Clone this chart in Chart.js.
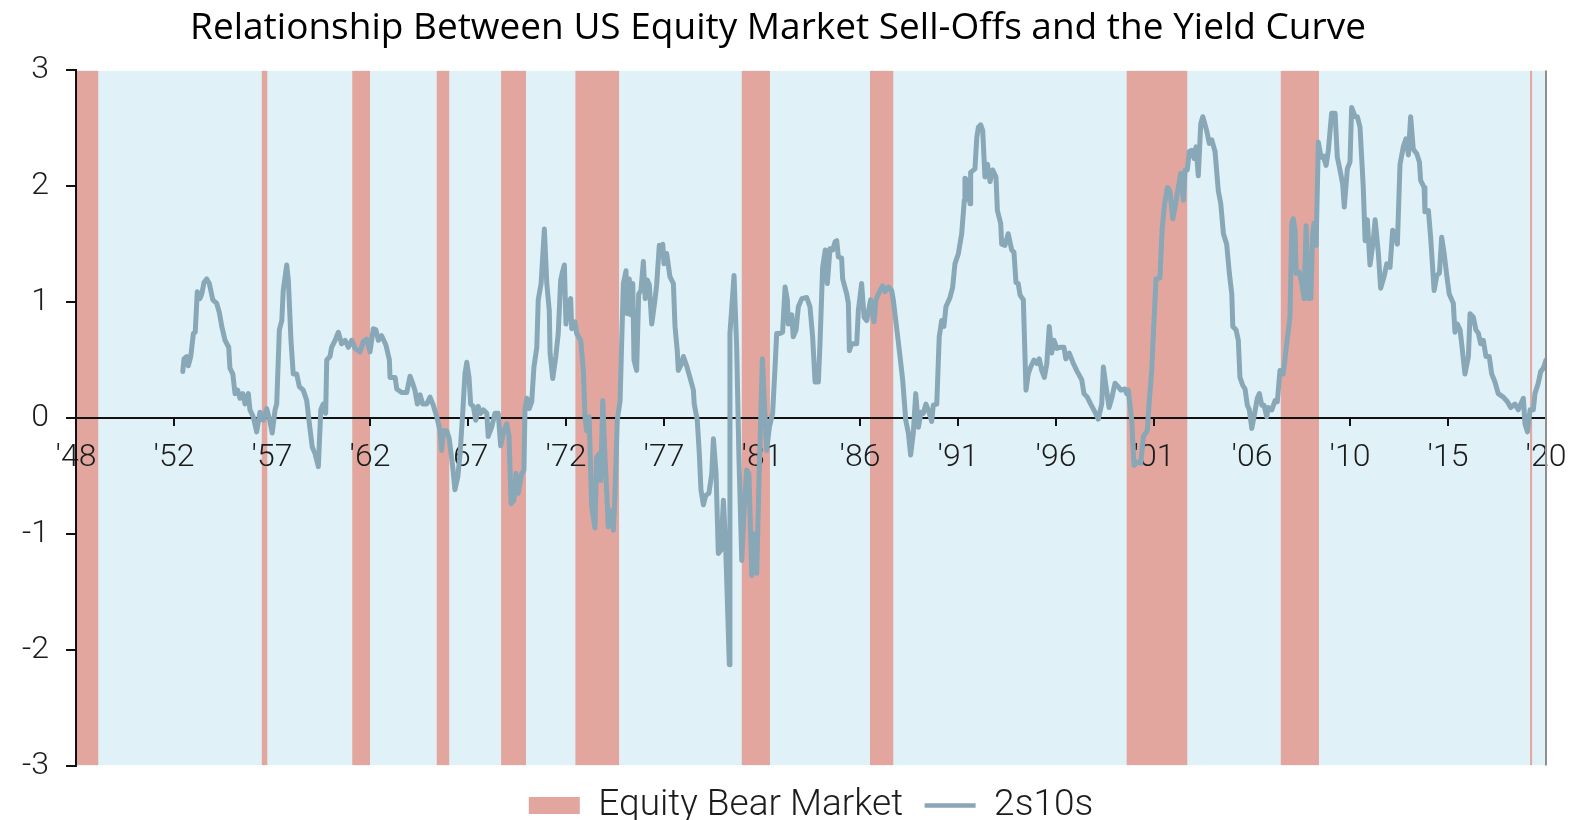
<!DOCTYPE html>
<html>
<head>
<meta charset="utf-8">
<title>Relationship Between US Equity Market Sell-Offs and the Yield Curve</title>
<script src="https://cdn.jsdelivr.net/npm/chart.js@4.4.1/dist/chart.umd.min.js"></script>
<style>
  html, body { margin: 0; padding: 0; background: #fff; }
  #wrap { width: 1573px; height: 820px; }
</style>
</head>
<body>
<div id="wrap"><canvas id="chart" width="1573" height="820"></canvas></div>
<script>
/* =============================================
   2s10s CURVE vs EQUITY BEAR MARKETS
   ============================================= */

const TITLE = 'Relationship Between US Equity Market Sell-Offs and the Yield Curve';

const xMin = 1948, xMax = 2020;
const yMin = -3, yMax = 3;

const xTickLabels = ["'48", "'52", "'57", "'62", "'67", "'72", "'77", "'81",
                     "'86", "'91", "'96", "'01", "'06", "'10", "'15", "'20"];

// bear market periods (decimal years)
const bearStart = [1948.00, 1957.10, 1961.53, 1965.67, 1968.82, 1972.46, 1980.61, 1986.89, 1999.46, 2007.01, 2019.22];
const bearEnd   = [1949.09, 1957.37, 1962.40, 1966.28, 1970.04, 1974.60, 1981.99, 1988.03, 2002.43, 2008.88, 2019.33];

// 2s10s spread (pct points)
const dates = [
  1953.23,1953.29,1953.42,1953.50,1953.62,1953.75,1953.84,1953.94,1954.07,1954.16,
  1954.27,1954.40,1954.53,1954.70,1954.89,1955.02,1955.14,1955.30,1955.48,1955.54,
  1955.68,1955.79,1955.92,1956.03,1956.17,1956.28,1956.44,1956.52,1956.68,1956.85,
  1957.01,1957.17,1957.34,1957.50,1957.61,1957.75,1957.83,1957.96,1958.08,1958.15,
  1958.32,1958.40,1958.53,1958.64,1958.81,1958.94,1959.13,1959.30,1959.43,1959.57,
  1959.71,1959.87,1959.99,1960.11,1960.23,1960.28,1960.44,1960.52,1960.69,1960.85,
  1961.01,1961.18,1961.34,1961.50,1961.67,1961.91,1962.07,1962.24,1962.40,1962.56,
  1962.69,1962.81,1962.97,1963.18,1963.35,1963.38,1963.63,1963.71,1963.95,1964.20,
  1964.36,1964.49,1964.60,1964.72,1964.85,1964.98,1965.18,1965.34,1965.50,1965.67,
  1965.83,1965.91,1965.99,1966.16,1966.28,1966.45,1966.56,1966.70,1966.81,1966.94,
  1967.05,1967.14,1967.25,1967.33,1967.46,1967.58,1967.70,1967.82,1967.95,1968.12,
  1968.19,1968.36,1968.52,1968.68,1968.80,1968.93,1969.10,1969.21,1969.31,1969.45,
  1969.55,1969.66,1969.83,1969.94,1969.99,1970.08,1970.20,1970.32,1970.43,1970.57,
  1970.64,1970.78,1970.94,1971.06,1971.18,1971.22,1971.35,1971.50,1971.62,1971.74,
  1971.84,1971.92,1972.00,1972.11,1972.23,1972.28,1972.44,1972.52,1972.72,1972.85,
  1972.93,1973.01,1973.13,1973.26,1973.42,1973.50,1973.63,1973.70,1973.80,1973.91,
  1973.99,1974.07,1974.16,1974.32,1974.40,1974.51,1974.65,1974.73,1974.81,1974.94,
  1975.00,1975.10,1975.17,1975.27,1975.33,1975.46,1975.56,1975.67,1975.79,1975.88,
  1975.98,1976.08,1976.20,1976.36,1976.44,1976.57,1976.69,1976.74,1976.80,1976.93,
  1977.09,1977.26,1977.34,1977.45,1977.50,1977.67,1977.75,1977.91,1978.07,1978.24,
  1978.28,1978.43,1978.53,1978.61,1978.73,1978.84,1979.00,1979.14,1979.22,1979.35,
  1979.46,1979.59,1979.71,1979.82,1980.00,1980.03,1980.23,1980.36,1980.47,1980.61,
  1980.72,1980.85,1980.96,1981.10,1981.17,1981.34,1981.47,1981.62,1981.71,1981.83,
  1981.96,1982.12,1982.24,1982.32,1982.48,1982.61,1982.73,1982.84,1982.89,1983.06,
  1983.13,1983.27,1983.38,1983.55,1983.79,1983.95,1984.08,1984.20,1984.36,1984.44,
  1984.57,1984.70,1984.80,1984.93,1985.06,1985.18,1985.26,1985.34,1985.50,1985.55,
  1985.75,1985.83,1985.88,1985.99,1986.24,1986.32,1986.48,1986.60,1986.73,1986.92,
  1987.09,1987.18,1987.38,1987.51,1987.62,1987.79,1987.95,1988.03,1988.20,1988.36,
  1988.49,1988.64,1988.77,1988.88,1989.01,1989.13,1989.26,1989.39,1989.50,1989.63,
  1989.78,1989.91,1989.99,1990.16,1990.28,1990.40,1990.51,1990.61,1990.81,1990.94,
  1991.05,1991.22,1991.38,1991.51,1991.54,1991.66,1991.79,1991.82,1992.03,1992.12,
  1992.20,1992.31,1992.41,1992.52,1992.64,1992.77,1992.90,1993.06,1993.13,1993.29,
  1993.34,1993.50,1993.66,1993.83,1993.94,1994.04,1994.15,1994.24,1994.40,1994.53,
  1994.64,1994.76,1994.92,1995.06,1995.18,1995.30,1995.43,1995.55,1995.67,1995.79,
  1995.90,1996.04,1996.20,1996.39,1996.48,1996.65,1996.85,1997.04,1997.26,1997.37,
  1997.53,1997.70,1997.91,1998.07,1998.24,1998.32,1998.45,1998.60,1998.73,1998.89,
  1999.05,1999.17,1999.38,1999.46,1999.54,1999.71,1999.82,1999.98,2000.15,2000.28,
  2000.47,2000.57,2000.69,2000.77,2000.90,2001.09,2001.20,2001.32,2001.46,2001.58,
  2001.72,2001.83,2001.99,2002.11,2002.24,2002.32,2002.43,2002.53,2002.65,2002.76,
  2002.86,2002.97,2003.09,2003.19,2003.38,2003.51,2003.63,2003.79,2003.95,2004.07,
  2004.20,2004.36,2004.49,2004.61,2004.66,2004.82,2004.93,2005.01,2005.15,2005.26,
  2005.37,2005.47,2005.59,2005.71,2005.86,2005.96,2006.08,2006.19,2006.32,2006.40,
  2006.57,2006.73,2006.84,2006.97,2007.13,2007.30,2007.46,2007.55,2007.62,2007.71,
  2007.76,2007.92,2008.04,2008.15,2008.25,2008.36,2008.48,2008.57,2008.64,2008.74,
  2008.85,2008.98,2009.09,2009.23,2009.34,2009.50,2009.67,2009.78,2009.91,2010.04,
  2010.12,2010.27,2010.40,2010.48,2010.65,2010.76,2010.89,2011.05,2011.14,2011.25,
  2011.38,2011.54,2011.63,2011.79,2011.90,2012.07,2012.20,2012.36,2012.49,2012.60,
  2012.72,2012.85,2013.01,2013.14,2013.26,2013.37,2013.50,2013.67,2013.80,2013.86,
  2014.03,2014.07,2014.24,2014.35,2014.52,2014.65,2014.78,2014.89,2015.01,2015.14,
  2015.26,2015.46,2015.54,2015.66,2015.79,2015.87,2016.03,2016.20,2016.28,2016.44,
  2016.57,2016.69,2016.80,2016.93,2017.06,2017.22,2017.34,2017.50,2017.66,2017.91,
  2018.11,2018.27,2018.48,2018.64,2018.76,2018.89,2018.97,2019.09,2019.22,2019.38,
  2019.46,2019.62,2019.74,2019.87,2020.00
];

const spread = [
  0.40,0.51,0.53,0.45,0.53,0.73,0.74,1.09,1.03,1.07,
  1.17,1.20,1.16,1.02,0.99,0.91,0.79,0.67,0.61,0.43,
  0.38,0.21,0.24,0.17,0.21,0.12,0.21,0.07,0.01,-0.12,
  0.05,-0.02,0.08,-0.03,-0.13,0.07,0.12,0.76,0.84,1.10,
  1.32,1.19,0.67,0.38,0.38,0.27,0.24,0.15,-0.05,-0.25,
  -0.31,-0.42,0.07,0.12,0.04,0.50,0.53,0.61,0.67,0.74,
  0.64,0.67,0.61,0.67,0.60,0.57,0.66,0.68,0.57,0.77,
  0.76,0.67,0.71,0.63,0.50,0.35,0.35,0.25,0.22,0.22,
  0.36,0.30,0.24,0.12,0.20,0.12,0.12,0.18,0.11,0.01,
  -0.11,-0.28,-0.11,-0.11,-0.18,-0.42,-0.62,-0.51,-0.31,0.04,
  0.38,0.48,0.35,0.12,0.10,-0.02,0.10,0.04,0.07,0.04,
  -0.16,-0.08,0.04,0.04,-0.24,-0.13,-0.05,-0.16,-0.74,-0.71,
  -0.48,-0.65,-0.48,-0.45,0.07,0.17,0.08,0.14,0.44,0.61,
  1.02,1.16,1.63,1.16,0.93,0.56,0.34,0.53,0.73,1.19,
  1.27,1.32,0.81,0.99,1.03,0.77,0.83,0.73,0.67,0.41,
  0.01,-0.11,0.01,-0.77,-0.95,-0.34,-0.31,-0.54,0.15,-0.34,
  -0.62,-0.94,-0.80,-0.97,-0.65,-0.02,0.15,0.67,1.16,1.27,
  0.90,1.20,0.89,1.16,0.50,0.41,1.07,1.10,1.35,1.03,
  1.19,1.15,0.81,1.02,1.15,1.49,1.45,1.50,1.33,1.42,
  1.22,1.16,0.79,0.58,0.41,0.47,0.53,0.45,0.35,0.24,
  0.12,-0.02,-0.31,-0.62,-0.75,-0.67,-0.65,-0.48,-0.18,-0.48,
  -1.17,-1.14,-0.71,-1.11,-2.13,0.73,1.23,0.61,-0.34,-1.23,
  -0.80,-0.45,-0.48,-1.36,-1.00,-1.34,-0.42,0.51,0.15,-0.28,
  -0.08,0.04,0.44,0.73,0.73,0.74,1.13,1.02,0.81,0.89,
  0.70,0.76,0.96,1.03,1.04,0.96,0.70,0.31,0.31,0.64,
  1.30,1.45,1.16,1.46,1.45,1.52,1.53,1.39,1.38,1.20,
  1.07,0.99,0.58,0.64,0.64,0.93,1.16,0.87,0.84,1.02,
  0.83,1.02,1.10,1.14,1.09,1.13,1.10,1.02,0.77,0.53,
  0.33,-0.02,-0.13,-0.32,-0.13,0.21,-0.08,0.05,0.04,0.12,
  0.05,-0.03,0.11,0.12,0.70,0.84,0.79,0.96,1.04,1.13,
  1.33,1.42,1.59,1.88,2.07,2.05,1.85,2.12,2.15,2.42,
  2.51,2.53,2.48,2.08,2.19,2.04,2.14,2.08,1.79,1.68,
  1.50,1.49,1.59,1.45,1.43,1.17,1.16,1.06,1.02,0.24,
  0.38,0.44,0.50,0.47,0.51,0.41,0.35,0.47,0.79,0.56,
  0.67,0.60,0.61,0.61,0.51,0.56,0.47,0.40,0.33,0.21,
  0.18,0.12,0.05,-0.01,0.12,0.44,0.27,0.09,0.17,0.30,
  0.27,0.24,0.25,0.21,0.24,-0.02,-0.41,-0.38,-0.39,-0.16,
  -0.11,0.15,0.41,0.73,1.20,1.21,1.63,1.85,1.99,1.96,
  1.72,1.82,1.99,2.11,1.88,2.14,2.14,2.30,2.31,2.24,
  2.34,2.09,2.54,2.60,2.48,2.37,2.40,2.30,1.96,1.85,
  1.59,1.50,1.25,1.07,0.79,0.76,0.67,0.35,0.28,0.25,
  0.11,0.07,-0.09,0.02,0.17,0.21,0.11,0.11,0.01,0.09,
  0.07,0.15,0.14,0.41,0.38,0.64,0.87,1.68,1.72,1.62,
  1.25,1.26,1.16,1.03,1.66,1.03,1.03,1.59,1.68,1.49,
  2.38,2.25,2.26,2.18,2.31,2.63,2.63,2.25,2.14,2.02,
  1.82,2.15,2.21,2.68,2.60,2.60,2.51,1.99,1.53,1.71,
  1.32,1.53,1.71,1.42,1.12,1.22,1.33,1.30,1.62,1.59,
  1.50,2.19,2.34,2.41,2.27,2.60,2.32,2.28,2.21,2.05,
  1.99,1.78,1.79,1.56,1.10,1.23,1.25,1.56,1.42,1.23,
  1.07,0.99,0.74,0.81,0.76,0.64,0.38,0.53,0.90,0.87,
  0.76,0.73,0.64,0.67,0.53,0.53,0.38,0.31,0.21,0.18,
  0.14,0.09,0.12,0.07,0.12,0.17,-0.05,-0.12,0.07,0.07,
  0.21,0.30,0.40,0.43,0.50
];

// colours
const BG_COLOR = '#e0f2f7';
const BEAR_COLOR = '#e2a69f';
const LINE_COLOR = '#88a7b7';
const AXIS_COLOR = '#111';
const TEXT_COLOR = '#1c1c1c';

const TICK_FONT = { family: 'Roboto', size: 32, weight: 300 };

// stepped outline: up at each start, down at each end, filled to the bottom
const bearSteps = [];
bearStart.forEach((s, i) => {
  bearSteps.push({ x: s, y: yMax });
  bearSteps.push({ x: bearEnd[i], y: yMin });
});

const spreadPoints = dates.map((d, i) => ({ x: d, y: spread[i] }));
const plotBackground = [{ x: xMin, y: yMax }, { x: xMax, y: yMax }];

// thin grey frame on the right edge of the plot
const rightEdge = {
  id: 'rightEdge',
  afterDraw(c) {
    const { ctx, chartArea: a } = c;
    ctx.save();
    ctx.strokeStyle = '#8f8f8f';
    ctx.lineWidth = 2;
    ctx.beginPath();
    ctx.moveTo(a.right, a.top);
    ctx.lineTo(a.right, a.bottom);
    ctx.stroke();
    ctx.restore();
  }
};

new Chart(document.getElementById('chart'), {
  type: 'line',
  data: {
    datasets: [
      {
        label: 'Equity Bear Market',
        data: bearSteps,
        stepped: true,
        fill: 'start',
        backgroundColor: BEAR_COLOR,
        borderColor: BEAR_COLOR,
        borderWidth: 0,
        pointRadius: 0,
        order: 2
      },
      {
        label: '2s10s',
        data: spreadPoints,
        borderColor: LINE_COLOR,
        backgroundColor: LINE_COLOR,
        borderWidth: 5,
        borderJoinStyle: 'round',
        borderCapStyle: 'round',
        pointRadius: 0,
        tension: 0,
        fill: false,
        order: 1
      },
      {
        label: 'plot area',
        data: plotBackground,
        fill: 'start',
        backgroundColor: BG_COLOR,
        borderWidth: 0,
        pointRadius: 0,
        order: 3
      }
    ]
  },
  options: {
    responsive: false,
    animation: false,
    devicePixelRatio: 1,
    events: [],
    layout: { padding: { left: 10, right: 27, top: 0, bottom: -14 } },
    scales: {
      x: {
        type: 'linear',
        min: xMin,
        max: xMax,
        position: { y: 0 },
        afterBuildTicks: (s) => {
          const step = (xMax - xMin) / (xTickLabels.length - 1);
          s.ticks = xTickLabels.map((_, i) => ({ value: xMin + i * step }));
        },
        afterFit: (s) => { s.height = 0; s.paddingLeft = 0; s.paddingRight = 0; },
        ticks: {
          autoSkip: false,
          maxRotation: 0,
          padding: 14,
          color: TEXT_COLOR,
          font: TICK_FONT,
          callback: (v, i) => xTickLabels[i]
        },
        grid: { drawOnChartArea: false, drawTicks: true, tickLength: 7, color: AXIS_COLOR, lineWidth: 2 },
        border: { display: true, color: AXIS_COLOR, width: 2 }
      },
      y: {
        type: 'linear',
        min: yMin,
        max: yMax,
        afterFit: (s) => { s.width = 66; },
        ticks: { stepSize: 1, padding: 17, color: TEXT_COLOR, font: TICK_FONT },
        grid: { drawOnChartArea: false, drawTicks: true, tickLength: 10, color: AXIS_COLOR, lineWidth: 2 },
        border: { display: true, color: AXIS_COLOR, width: 2 }
      }
    },
    plugins: {
      filler: { drawTime: 'beforeDraw' },
      tooltip: { enabled: false },
      title: {
        display: true,
        text: TITLE,
        color: '#000',
        font: { family: 'Open Sans', size: 37, weight: 'normal' },
        padding: { top: 6, bottom: 20 }
      },
      legend: {
        position: 'bottom',
        fullSize: false,
        labels: {
          usePointStyle: true,
          pointStyleWidth: 51,
          boxHeight: 17,
          padding: 21.5,
          color: TEXT_COLOR,
          font: { family: 'Roboto', size: 37, weight: 300 },
          generateLabels: (c) => {
            const ds = c.data.datasets;
            return [
              { text: ds[0].label, fillStyle: BEAR_COLOR, strokeStyle: BEAR_COLOR, lineWidth: 0,
                pointStyle: 'rect', fontColor: TEXT_COLOR, datasetIndex: 0, hidden: false },
              { text: ds[1].label, fillStyle: LINE_COLOR, strokeStyle: LINE_COLOR, lineWidth: 4.5,
                pointStyle: 'line', fontColor: TEXT_COLOR, datasetIndex: 1, hidden: false }
            ];
          }
        }
      }
    }
  },
  plugins: [rightEdge]
});
</script>
</body>
</html>
